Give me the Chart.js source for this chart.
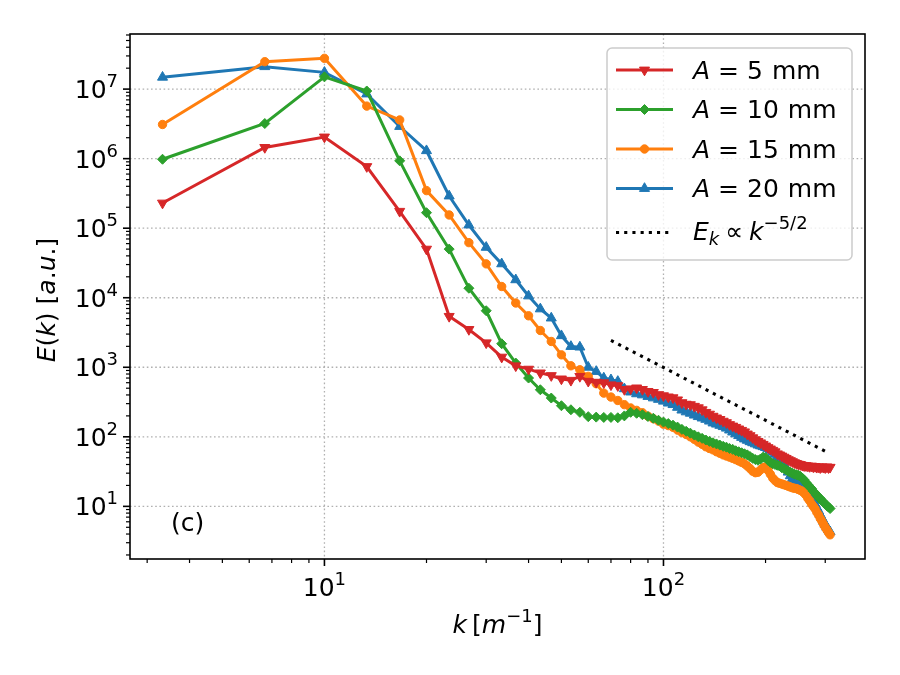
<!DOCTYPE html>
<html>
<head>
<meta charset="utf-8">
<script src="https://cdn.jsdelivr.net/npm/chart.js@4.4.1/dist/chart.umd.min.js"></script>
<style>
    html, body { margin: 0; padding: 0; background: #fff; }
    #wrap { width: 900px; height: 675px; position: relative; }
</style>
</head>
<body>
<div id="wrap"><canvas id="spectrumChart"></canvas></div>
<script>
// Wavenumbers k [1/m]
const kValues = [
    3.33, 6.67, 10, 13.33, 16.67, 20, 23.33, 26.67, 30, 33.33,
    36.67, 40, 43.33, 46.67, 50, 53.33, 56.67, 60, 63.33, 66.67,
    70, 73.33, 76.67, 80, 83.33, 86.67, 90, 93.33, 96.67, 100,
    103.33, 106.67, 110, 113.33, 116.67, 120, 123.33, 126.67, 130, 133.33,
    136.67, 140, 143.33, 146.67, 150, 153.33, 156.67, 160, 163.33, 166.67,
    170, 173.33, 176.67, 180, 183.33, 186.67, 190, 193.33, 196.67, 200,
    203.33, 206.67, 210, 213.33, 216.67, 220, 223.33, 226.67, 230, 233.33,
    236.67, 240, 243.33, 246.67, 250, 253.33, 256.67, 260, 263.33, 266.67,
    270, 273.33, 276.67, 280, 283.33, 286.67, 290, 293.33, 296.67, 300,
    303.33, 306.67, 310
];

// E(k) for each amplitude
const energyA5 = [
    2.3e5, 1.45e6, 2.05e6, 7.7e5, 1.75e5, 5.0e4, 5400, 3500, 2250, 1400,
    1050, 940, 830, 760, 680, 650, 740, 630, 610, 600,
    560, 545, 480, 490, 505, 480, 450, 435, 405, 390,
    375, 365, 340, 310, 295, 290, 275, 262, 245, 225,
    212, 198, 187, 178, 168, 160, 150, 143, 137, 130,
    124, 118, 110, 104, 97, 91, 86, 82, 78, 74,
    70, 67, 64, 61, 57, 55, 53, 51, 49, 47,
    45.5, 44, 42.5, 41.5, 40.5, 40, 39, 38.5, 38.5, 38,
    37.5, 38, 37, 37.5, 36.5, 37, 36, 37, 36.5, 36,
    37, 36, 36.5
];
const energyA10 = [
    9.8e5, 3.2e6, 1.5e7, 9.4e6, 9.3e5, 1.67e5, 5.0e4, 1.37e4, 6500, 2180,
    1150, 700, 475, 361, 280, 245, 225, 195, 192, 190,
    190, 188, 200, 225, 218, 208, 196, 185, 173, 163,
    155, 147, 138, 128, 120, 113, 106, 100, 95, 90,
    86, 82, 79, 76, 73, 71, 68, 66, 63, 61,
    59, 57, 55, 52, 49, 47, 46, 48, 51, 50,
    46, 43, 41, 40, 39, 38, 36, 35, 33.5, 32,
    31, 30, 29, 28.5, 28, 27, 25.5, 24, 22, 20.5,
    19, 18, 16.5, 15.5, 14.5, 13.5, 13, 12, 11.5, 10.8,
    10.2, 9.8, 9.3
];
const energyA15 = [
    3.1e6, 2.48e7, 2.77e7, 5.7e6, 3.6e6, 3.47e5, 1.55e5, 6.2e4, 3.07e4, 1.45e4,
    8400, 5500, 3380, 2350, 1510, 1050, 920, 740, 580, 425,
    373, 333, 290, 260, 240, 222, 198, 182, 168, 152,
    145, 137, 125, 115, 108, 100, 92, 84, 78, 72,
    68, 65, 61, 58, 55, 53, 51, 49, 47, 45,
    43, 41, 38, 35, 32, 30.5, 31, 33.5, 36, 37,
    33, 29, 25.5, 23.5, 22, 21.5, 21, 20.5, 20, 19.5,
    19, 18.5, 18.2, 18, 17.5, 17, 16.5, 15.5, 14.5, 13,
    12, 10.8, 10, 9.2, 8.2, 7.5, 6.7, 6.1, 5.5, 5,
    4.6, 4.2, 3.9
];
const energyA20 = [
    1.48e7, 2.1e7, 1.74e7, 8.5e6, 2.9e6, 1.3e6, 2.9e5, 1.11e5, 5.3e4, 3.07e4,
    1.81e4, 1.06e4, 6900, 5100, 2840, 1990, 1950, 1000, 870, 700,
    660, 625, 490, 440, 415, 400, 380, 362, 345, 325,
    305, 290, 265, 242, 228, 218, 205, 195, 186, 178,
    168, 158, 152, 146, 140, 133, 125, 117, 110, 104,
    98, 93, 89, 85, 82, 79, 76, 74, 72, 70,
    67, 64, 60, 56, 52, 48, 44, 40, 36, 31,
    27.5, 25, 24, 23, 22.5, 22, 21, 19.5, 18, 16.5,
    15, 13.5, 12, 10.8, 9.6, 8.6, 7.6, 6.8, 6.1, 5.5,
    5, 4.6, 4.3
];

// Reference slope E_k ~ k^(-5/2), read at its two ends
const refK = [70, 300];
const refE = [2440, 62];

const amplitudes = ['5', '10', '15', '20'];   // mm
const xRange = [2.67, 393];
const yRange = [1.75, 6.2e7];
const xMajorExps = [1, 2];
const yMajorExps = [1, 2, 3, 4, 5, 6, 7];

const FONT = "'DejaVu Sans', sans-serif";
const BASE = 25;
const SUP = 18;

function toPoints(xs, ys) {
    return xs.map((x, i) => ({ x: x, y: ys[i] }));
}

function makeSeries(label, values, color, shape, rotation, radius) {
    return {
        label: label,
        data: toPoints(kValues, values),
        borderColor: color,
        backgroundColor: color,
        borderWidth: 3,
        pointStyle: shape,
        pointRotation: rotation,
        pointRadius: radius,
        pointBorderWidth: 1,
        pointBackgroundColor: color,
        pointBorderColor: color,
        tension: 0
    };
}

function setFont(ctx, size, italic) {
    ctx.font = (italic ? 'italic ' : '') + size + 'px ' + FONT;
}

// draw a run of text pieces (italic / super / subscript) on one baseline
function drawRun(ctx, parts, x, y, align) {
    let w = 0;
    parts.forEach(p => {
        setFont(ctx, p.s || BASE, p.it);
        w += (p.gap || 0) + ctx.measureText(p.t).width;
    });
    let cx = align === 'center' ? x - w / 2 : (align === 'right' ? x - w : x);
    ctx.textAlign = 'left';
    ctx.textBaseline = 'alphabetic';
    parts.forEach(p => {
        setFont(ctx, p.s || BASE, p.it);
        cx += p.gap || 0;
        ctx.fillText(p.t, cx, y + (p.dy || 0));
        cx += ctx.measureText(p.t).width;
    });
}

function powLabel(e) {
    return [{ t: '10' }, { t: String(e), s: SUP, dy: -11 }];
}

function drawMarker(ctx, shape, rotation, r, x, y) {
    ctx.beginPath();
    if (shape === 'circle') {
        ctx.arc(x, y, r, 0, Math.PI * 2);
    } else if (shape === 'rectRot') {
        ctx.moveTo(x - r, y); ctx.lineTo(x, y - r); ctx.lineTo(x + r, y); ctx.lineTo(x, y + r);
        ctx.closePath();
    } else {
        let rad = rotation * Math.PI / 180;
        for (let i = 0; i < 3; i++) {
            const a = rad + i * 2 * Math.PI / 3;
            const px = x + Math.sin(a) * r, py = y - Math.cos(a) * r;
            if (i === 0) ctx.moveTo(px, py); else ctx.lineTo(px, py);
        }
        ctx.closePath();
    }
    ctx.fill();
    ctx.stroke();
}

function logTicks(min, max) {
    const out = [];
    for (let e = Math.floor(Math.log10(min)); e <= Math.ceil(Math.log10(max)); e++) {
        for (let d = 1; d <= 9; d++) {
            const v = d * Math.pow(10, e);
            if (v >= min && v <= max) out.push({ v: v, major: d === 1 });
        }
    }
    return out;
}

const decor = {
    id: 'decor',
    beforeDatasetsDraw(chart) {
        const { ctx, chartArea: a, scales: { x, y } } = chart;
        ctx.save();
        ctx.strokeStyle = '#b0b0b0';
        ctx.lineWidth = 1.3;
        ctx.setLineDash([1.6, 2.6]);
        xMajorExps.forEach(e => {
            const px = x.getPixelForValue(Math.pow(10, e));
            ctx.beginPath(); ctx.moveTo(px, a.top); ctx.lineTo(px, a.bottom); ctx.stroke();
        });
        yMajorExps.forEach(e => {
            const py = y.getPixelForValue(Math.pow(10, e));
            ctx.beginPath(); ctx.moveTo(a.left, py); ctx.lineTo(a.right, py); ctx.stroke();
        });
        ctx.restore();
    },
    afterDatasetsDraw(chart) {
        const { ctx, chartArea: a, scales: { x, y } } = chart;
        ctx.save();
        ctx.fillStyle = '#000';
        ctx.strokeStyle = '#000';

        // frame
        ctx.lineWidth = 1.6;
        ctx.strokeRect(a.left, a.top, a.right - a.left, a.bottom - a.top);

        // tick marks
        logTicks(xRange[0], xRange[1]).forEach(t => {
            const px = x.getPixelForValue(t.v);
            ctx.lineWidth = t.major ? 1.6 : 1.2;
            ctx.beginPath(); ctx.moveTo(px, a.bottom); ctx.lineTo(px, a.bottom + (t.major ? 7 : 4)); ctx.stroke();
        });
        logTicks(yRange[0], yRange[1]).forEach(t => {
            const py = y.getPixelForValue(t.v);
            ctx.lineWidth = t.major ? 1.6 : 1.2;
            ctx.beginPath(); ctx.moveTo(a.left, py); ctx.lineTo(a.left - (t.major ? 7 : 4), py); ctx.stroke();
        });

        // tick labels
        xMajorExps.forEach(e => {
            drawRun(ctx, powLabel(e), x.getPixelForValue(Math.pow(10, e)), a.bottom + 37, 'center');
        });
        yMajorExps.forEach(e => {
            drawRun(ctx, powLabel(e), a.left - 12, y.getPixelForValue(Math.pow(10, e)) + 9, 'right');
        });

        // axis titles
        drawRun(ctx, [
            { t: 'k', it: true }, { t: '[', gap: 5 }, { t: 'm', it: true },
            { t: '\u22121', s: SUP, dy: -11 }, { t: ']' }
        ], (a.left + a.right) / 2, 633, 'center');

        ctx.save();
        ctx.translate(55, 300);
        ctx.rotate(-Math.PI / 2);
        drawRun(ctx, [
            { t: 'E', it: true }, { t: '(' }, { t: 'k', it: true }, { t: ')' },
            { t: '[', gap: 8 }, { t: 'a', it: true }, { t: '.' }, { t: 'u', it: true }, { t: '.' }, { t: ']' }
        ], 0, 0, 'center');
        ctx.restore();

        // panel tag
        drawRun(ctx, [{ t: '(c)' }], 171, 531, 'left');

        // legend
        const bx = 607, by = 48, bw = 245, bh = 212;
        ctx.beginPath();
        ctx.roundRect(bx, by, bw, bh, 5);
        ctx.fillStyle = 'rgba(255,255,255,0.8)';
        ctx.fill();
        ctx.strokeStyle = '#cccccc';
        ctx.lineWidth = 1.5;
        ctx.stroke();

        const rowY = [70, 109.5, 149, 188.5];
        chart.data.datasets.slice(0, 4).forEach((ds, i) => {
            const yy = rowY[i];
            ctx.strokeStyle = ds.borderColor;
            ctx.fillStyle = ds.borderColor;
            ctx.lineWidth = 3;
            ctx.beginPath(); ctx.moveTo(616, yy); ctx.lineTo(673, yy); ctx.stroke();
            ctx.lineWidth = 1;
            drawMarker(ctx, ds.pointStyle, ds.pointRotation, ds.pointRadius, 644.5, yy);
            ctx.fillStyle = '#000';
            drawRun(ctx, [
                { t: 'A', it: true }, { t: '=', gap: 8 }, { t: amplitudes[i], gap: 8 }, { t: 'mm', gap: 9 }
            ], 693, yy + 8.7, 'left');
        });
        ctx.strokeStyle = '#000';
        ctx.lineWidth = 3.1;
        ctx.setLineDash([3.1, 5.1]);
        ctx.beginPath(); ctx.moveTo(616, 232.5); ctx.lineTo(673, 232.5); ctx.stroke();
        ctx.setLineDash([]);
        ctx.fillStyle = '#000';
        drawRun(ctx, [
            { t: 'E', it: true }, { t: 'k', it: true, s: SUP, dy: 5 }, { t: '\u221D', gap: 6 },
            { t: 'k', it: true, gap: 6 }, { t: '\u22125/2', s: SUP, dy: -11 }
        ], 693, 239.5, 'left');

        ctx.restore();
    }
};

const refSeries = {
    label: 'ref',
    data: toPoints(refK, refE),
    borderColor: '#000',
    borderWidth: 3.1,
    borderDash: [3.1, 5.1],
    pointRadius: 0,
    fill: false
};

new Chart(document.getElementById('spectrumChart'), {
    type: 'line',
    data: {
        datasets: [
            makeSeries('A = 5 mm', energyA5, '#d62728', 'triangle', 180, 5.8),
            makeSeries('A = 10 mm', energyA10, '#2ca02c', 'rectRot', 0, 5),
            makeSeries('A = 15 mm', energyA15, '#ff7f0e', 'circle', 0, 4.2),
            makeSeries('A = 20 mm', energyA20, '#1f77b4', 'triangle', 0, 5.8),
            refSeries
        ]
    },
    options: {
        responsive: true,
        maintainAspectRatio: false,
        animation: false,
        events: [],
        layout: { padding: { left: 130, right: 35, top: 34, bottom: 116 } },
        plugins: {
            legend: { display: false },
            tooltip: { enabled: false }
        },
        scales: {
            x: { type: 'logarithmic', min: xRange[0], max: xRange[1], display: false },
            y: { type: 'logarithmic', min: yRange[0], max: yRange[1], display: false }
        }
    },
    plugins: [decor]
});
</script>
</body>
</html>
